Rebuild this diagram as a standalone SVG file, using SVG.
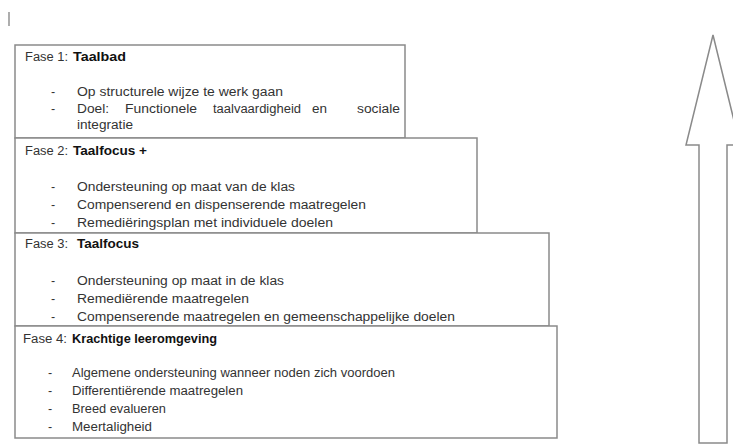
<svg xmlns="http://www.w3.org/2000/svg" width="733" height="444" viewBox="0 0 733 444">
<style>
  .box { fill: #ffffff; stroke: #8a8a8a; stroke-width: 1.5; }
  text { font-family: "Liberation Sans", Arial, sans-serif; font-size: 12.5px; fill: #333333; }
  .b { font-weight: bold; fill: #111111; }
  .arrow { fill: #ffffff; stroke: #8a8a8a; stroke-width: 1.5; stroke-linejoin: miter; }
</style>
<rect width="733" height="444" fill="#ffffff"/>
<line x1="9" y1="12" x2="9" y2="26" stroke="#777777" stroke-width="1.2"/>

<g id="fase1">
  <rect class="box" x="15" y="45" width="390" height="93"/>
  <text x="25" y="61" textLength="43" lengthAdjust="spacingAndGlyphs">Fase 1:</text>
  <text class="b" x="73" y="61" textLength="53" lengthAdjust="spacingAndGlyphs">Taalbad</text>
  <text x="51" y="96">-</text>
  <text x="77" y="96" textLength="206" lengthAdjust="spacingAndGlyphs">Op structurele wijze te werk gaan</text>
  <text x="51" y="113">-</text>
  <text x="77" y="113" textLength="32" lengthAdjust="spacingAndGlyphs">Doel:</text>
  <text x="125" y="113" textLength="72" lengthAdjust="spacingAndGlyphs">Functionele</text>
  <text x="213" y="113" textLength="88" lengthAdjust="spacingAndGlyphs">taalvaardigheid</text>
  <text x="312" y="113" textLength="15" lengthAdjust="spacingAndGlyphs">en</text>
  <text x="357" y="113" textLength="43" lengthAdjust="spacingAndGlyphs">sociale</text>
  <text x="77" y="129" textLength="56" lengthAdjust="spacingAndGlyphs">integratie</text>
</g>

<g id="fase2">
  <rect class="box" x="15" y="138" width="462" height="95"/>
  <text x="25" y="155" textLength="43" lengthAdjust="spacingAndGlyphs">Fase 2:</text>
  <text class="b" x="73" y="155" textLength="74" lengthAdjust="spacingAndGlyphs">Taalfocus +</text>
  <text x="51" y="191">-</text>
  <text x="77" y="191" textLength="218" lengthAdjust="spacingAndGlyphs">Ondersteuning op maat van de klas</text>
  <text x="51" y="209">-</text>
  <text x="77" y="209" textLength="289" lengthAdjust="spacingAndGlyphs">Compenserend en dispenserende maatregelen</text>
  <text x="51" y="227">-</text>
  <text x="77" y="227" textLength="256" lengthAdjust="spacingAndGlyphs">Remediëringsplan met individuele doelen</text>
</g>

<g id="fase3">
  <rect class="box" x="15" y="233" width="534" height="93"/>
  <text x="25" y="248" textLength="43" lengthAdjust="spacingAndGlyphs">Fase 3:</text>
  <text class="b" x="77" y="248" textLength="62" lengthAdjust="spacingAndGlyphs">Taalfocus</text>
  <text x="51" y="285">-</text>
  <text x="77" y="285" textLength="207" lengthAdjust="spacingAndGlyphs">Ondersteuning op maat in de klas</text>
  <text x="51" y="303">-</text>
  <text x="77" y="303" textLength="172" lengthAdjust="spacingAndGlyphs">Remediërende maatregelen</text>
  <text x="51" y="321">-</text>
  <text x="77" y="321" textLength="378" lengthAdjust="spacingAndGlyphs">Compenserende maatregelen en gemeenschappelijke doelen</text>
</g>

<g id="fase4">
  <rect class="box" x="15" y="326" width="542" height="112"/>
  <text x="23" y="343" textLength="44" lengthAdjust="spacingAndGlyphs">Fase 4:</text>
  <text class="b" x="72" y="343" textLength="145" lengthAdjust="spacingAndGlyphs">Krachtige leeromgeving</text>
  <text x="48" y="377">-</text>
  <text x="72" y="377" textLength="323" lengthAdjust="spacingAndGlyphs">Algemene ondersteuning wanneer noden zich voordoen</text>
  <text x="48" y="395">-</text>
  <text x="72" y="395" textLength="171" lengthAdjust="spacingAndGlyphs">Differentiërende maatregelen</text>
  <text x="48" y="413">-</text>
  <text x="72" y="413" textLength="94" lengthAdjust="spacingAndGlyphs">Breed evalueren</text>
  <text x="48" y="431">-</text>
  <text x="72" y="431" textLength="80" lengthAdjust="spacingAndGlyphs">Meertaligheid</text>
</g>

<g id="arrow">
  <polygon class="arrow" points="713,35 740,145 727,145 727,443 699,443 699,145 686,145"/>
</g>
</svg>
